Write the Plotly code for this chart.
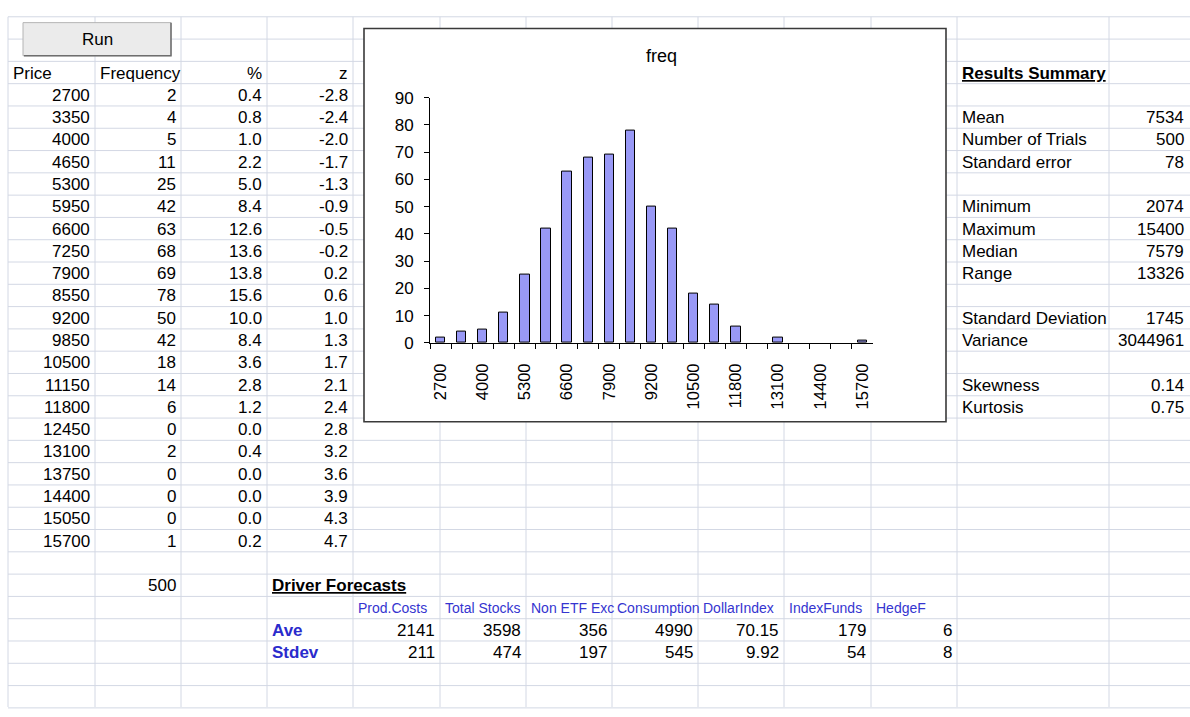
import plotly.graph_objects as go

# ---- data -------------------------------------------------------------
prices = [2700, 3350, 4000, 4650, 5300, 5950, 6600, 7250, 7900, 8550, 9200,
          9850, 10500, 11150, 11800, 12450, 13100, 13750, 14400, 15050, 15700]
freqs = [2, 4, 5, 11, 25, 42, 63, 68, 69, 78, 50, 42, 18, 14, 6, 0, 2, 0, 0, 0, 1]
pcts = [0.4, 0.8, 1.0, 2.2, 5.0, 8.4, 12.6, 13.6, 13.8, 15.6, 10.0, 8.4, 3.6,
        2.8, 1.2, 0.0, 0.4, 0.0, 0.0, 0.0, 0.2]
zvals = [-2.8, -2.4, -2.0, -1.7, -1.3, -0.9, -0.5, -0.2, 0.2, 0.6, 1.0, 1.3,
         1.7, 2.1, 2.4, 2.8, 3.2, 3.6, 3.9, 4.3, 4.7]
total_trials = 500

summary_labels = ["Mean", "Number of Trials", "Standard error", "",
                  "Minimum", "Maximum", "Median", "Range", "",
                  "Standard Deviation", "Variance", "",
                  "Skewness", "Kurtosis"]
summary_values = ["7534", "500", "78", "",
                  "2074", "15400", "7579", "13326", "",
                  "1745", "3044961", "",
                  "0.14", "0.75"]

driver_names = ["Prod.Costs", "Total Stocks", "Non ETF Exc", "Consumption",
                "DollarIndex", "IndexFunds", "HedgeF"]
driver_ave = ["2141", "3598", "356", "4990", "70.15", "179", "6"]
driver_stdev = ["211", "474", "197", "545", "9.92", "54", "8"]

price_labels = [str(p) for p in prices]

# ---- sheet geometry (pixels) ----------------------------------------
W, H = 1190, 717
ROW_TOP, ROW_H, N_ROWS = 8.0, 22.9, 31
COL_EDGES = [8, 95, 181, 267, 353, 440, 526, 612, 698, 784, 871, 957, 1109, 1189]
GRID = "#d3d8e4"
FONT = "Arial, Liberation Sans, sans-serif"
BLUE = "#2b2bcc"


def fx(x):
    return x / W


def fy(y):
    return 1 - y / H


annotations = []
shapes = []


def cell(text, row, col, align="right", size=17, color="#000", bold=False,
         underline=False):
    left, right = COL_EDGES[col], COL_EDGES[col + 1]
    yc = ROW_TOP + ROW_H * (row + 0.5) + 0.5
    t = str(text)
    if bold:
        t = "<b>" + t + "</b>"
    if underline:
        t = "<u>" + t + "</u>"
    if align == "right":
        x, anchor = right - 3, "right"
    else:
        x, anchor = left + 3, "left"
    annotations.append(dict(
        text=t, x=fx(x), y=fy(yc), xref="paper", yref="paper",
        xanchor=anchor, yanchor="middle", showarrow=False,
        font=dict(family=FONT, size=size, color=color)))


# grid lines
for k in range(N_ROWS + 1):
    y = ROW_TOP + ROW_H * k
    shapes.append(dict(type="line", xref="paper", yref="paper",
                       x0=fx(COL_EDGES[0]), x1=1, y0=fy(y), y1=fy(y),
                       line=dict(color=GRID, width=1), layer="below"))
for x in COL_EDGES[:-1]:
    shapes.append(dict(type="line", xref="paper", yref="paper",
                       x0=fx(x), x1=fx(x), y0=fy(ROW_TOP), y1=0,
                       line=dict(color=GRID, width=1), layer="below"))

# chart area box
shapes.append(dict(type="rect", xref="paper", yref="paper",
                   x0=fx(364), x1=fx(946), y0=fy(424), y1=fy(20),
                   fillcolor="white", line=dict(color="#3a3a3a", width=1.6),
                   layer="below"))

# Run button
shapes.append(dict(type="rect", xref="paper", yref="paper",
                   x0=fx(23), x1=fx(171), y0=fy(48), y1=fy(14),
                   fillcolor="#ebebeb", line=dict(color="#b4b4b4", width=1)))
shapes.append(dict(type="path", xref="paper", yref="paper",
                   path=f"M {fx(24)} {fy(48)} L {fx(171)} {fy(48)} L {fx(171)} {fy(14)}",
                   line=dict(color="#6e6e6e", width=1.5)))
annotations.append(dict(text="Run", x=fx(97), y=fy(31.5), xref="paper", yref="paper",
                        xanchor="center", yanchor="middle", showarrow=False,
                        font=dict(family=FONT, size=17, color="#000")))

# frequency table
cell("Price", 2, 0, align="left")
cell("Frequency", 2, 1, align="left")
cell("%", 2, 2)
cell("z", 2, 3)
for i in range(len(prices)):
    r = 3 + i
    cell(prices[i], r, 0)
    cell(freqs[i], r, 1)
    cell(f"{pcts[i]:.1f}", r, 2)
    cell(f"{zvals[i]:.1f}", r, 3)
cell(total_trials, 25, 1)

# results summary
cell("Results Summary", 2, 11, align="left", bold=True, underline=True)
for i, (lab, val) in enumerate(zip(summary_labels, summary_values)):
    if lab:
        cell(lab, 4 + i, 11, align="left")
        cell(val, 4 + i, 12)

# driver forecasts
cell("Driver Forecasts", 25, 3, align="left", bold=True, underline=True)
cell("Ave", 27, 3, align="left", bold=True, color=BLUE)
cell("Stdev", 28, 3, align="left", bold=True, color=BLUE)
for j, name in enumerate(driver_names):
    cell(name, 26, 4 + j, align="left", size=14, color="#3535d0")
    cell(driver_ave[j], 27, 4 + j)
    cell(driver_stdev[j], 28, 4 + j)

# chart title
annotations.append(dict(text="freq", x=fx(661), y=fy(48), xref="paper", yref="paper",
                        xanchor="center", yanchor="middle", showarrow=False,
                        font=dict(family=FONT, size=18, color="#000")))

# ---- histogram chart --------------------------------------------------
fig = go.Figure()
fig.add_trace(go.Bar(
    x=price_labels, y=freqs, width=0.44,
    marker=dict(color="#9999f6",
                line=dict(color="#000",
                          width=[1 if f > 0 else 0 for f in freqs])),
    hoverinfo="x+y"))
# carrier for the labelled category axis
fig.add_trace(go.Scatter(
    x=price_labels, y=freqs, xaxis="x2", yaxis="y", mode="markers",
    marker=dict(opacity=0), hoverinfo="skip"))

xdom = [fx(430), fx(873)]
ydom = [fy(343), fy(91)]

fig.update_layout(
    width=W, height=H,
    margin=dict(l=0, r=0, t=0, b=0),
    paper_bgcolor="white", plot_bgcolor="rgba(0,0,0,0)",
    showlegend=False,
    bargap=0,
    xaxis=dict(domain=xdom, type="category", categoryorder="array",
               categoryarray=price_labels, range=[-0.5, len(prices) - 0.5],
               tickmode="linear", tick0=0, dtick=1, tickson="boundaries",
               ticks="outside", ticklen=5, tickcolor="#000", tickwidth=1,
               showticklabels=False, showgrid=False, zeroline=False,
               showline=True, linecolor="#000", linewidth=1,
               anchor="y", fixedrange=True),
    xaxis2=dict(domain=xdom, overlaying="x", type="category",
                categoryorder="array", categoryarray=price_labels,
                range=[-0.5, len(prices) - 0.5], anchor="y",
                tickmode="array", tickvals=price_labels[::2],
                ticktext=price_labels[::2], tickangle=-90,
                ticks="outside", ticklen=13, tickcolor="rgba(0,0,0,0)",
                showgrid=False, zeroline=False, showline=False,
                tickfont=dict(family=FONT, size=16.5, color="#000"),
                fixedrange=True),
    yaxis=dict(domain=ydom, range=[0, 90], tickmode="linear", tick0=0, dtick=10,
               ticks="outside", ticklen=5, tickcolor="#000", tickwidth=1,
               showgrid=False, zeroline=False, showline=True,
               linecolor="#000", linewidth=1, ticklabelstandoff=7,
               tickfont=dict(family=FONT, size=17, color="#000"),
               anchor="x", fixedrange=True),
    shapes=shapes,
    annotations=annotations,
)

fig.write_html("out.html", config={"displayModeBar": False})
